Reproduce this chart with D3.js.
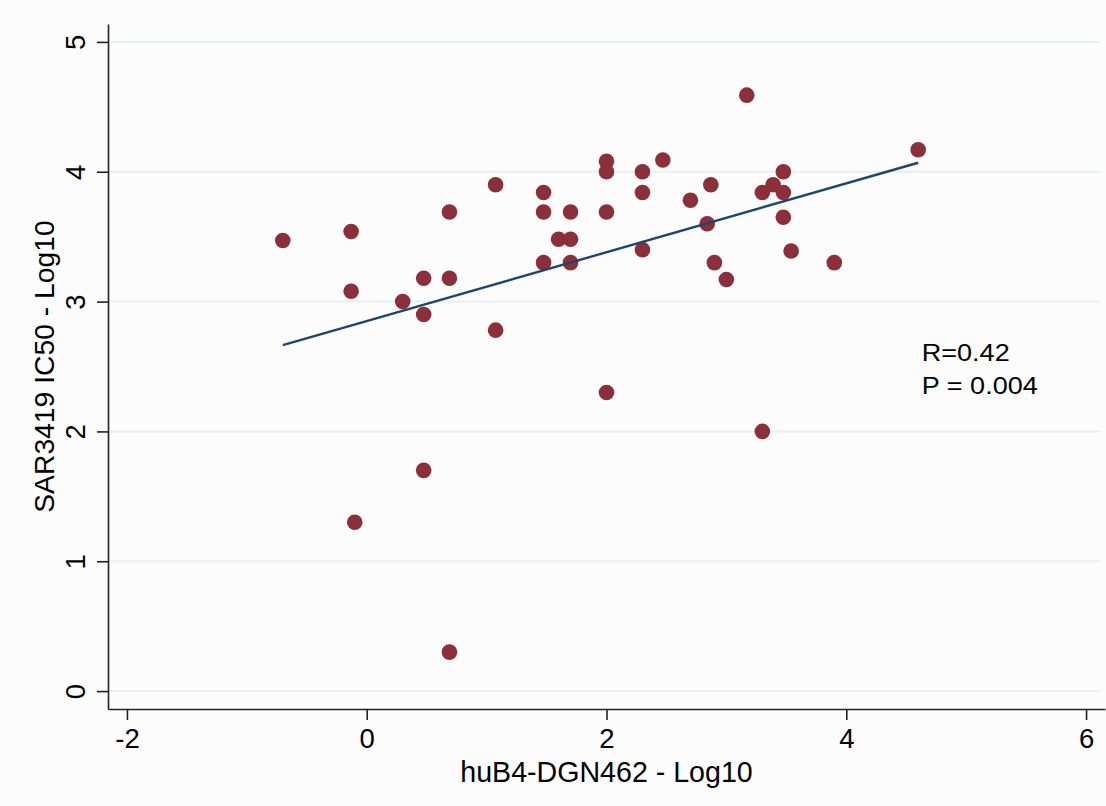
<!DOCTYPE html>
<html>
<head>
<meta charset="utf-8">
<script src="https://cdn.jsdelivr.net/npm/d3@7"></script>
<style>
  body { margin: 0; background: #fcfcfc; }
  svg { display: block; }
  text { font-family: "Liberation Sans", Arial, Helvetica, sans-serif; fill: #000; }
</style>
</head>
<body>
<div id="chart"></div>
<script>
// huB4-DGN462 (x) vs SAR3419 IC50 (y), both log10
const xValues = [-0.70, -0.13, -0.13, -0.10, 0.30, 0.475, 0.475, 0.475, 0.69, 0.69, 0.69,
  1.075, 1.075, 1.475, 1.475, 1.475, 1.60, 1.70, 1.70, 1.70,
  2.00, 2.00, 2.00, 2.00, 2.30, 2.30, 2.30, 2.47, 2.70, 2.84, 2.87, 2.90, 3.00,
  3.17, 3.30, 3.30, 3.39, 3.475, 3.475, 3.475, 3.54, 3.90, 4.60];
const yValues = [3.47, 3.54, 3.08, 1.30, 3.00, 3.18, 2.90, 1.70, 3.69, 3.18, 0.30,
  3.90, 2.78, 3.84, 3.69, 3.30, 3.48, 3.69, 3.48, 3.30,
  4.08, 4.00, 3.69, 2.30, 4.00, 3.84, 3.40, 4.09, 3.78, 3.60, 3.90, 3.30, 3.17,
  4.59, 3.84, 2.00, 3.90, 4.00, 3.84, 3.65, 3.39, 3.30, 4.17];
const xTicks = [-2, 0, 2, 4, 6];
const yTicks = [0, 1, 2, 3, 4, 5];
const statsLines = ["R=0.42", "P = 0.004"];
const statsAnchor = [4.63, 2.54];   // data position of first line

const W = 1106, H = 806;
const m = { left: 108, right: 1, top: 24, bottom: 97 };

const svg = d3.select("#chart").append("svg")
  .attr("width", W).attr("height", H);

svg.append("rect").attr("width", W).attr("height", H).attr("fill", "#fcfcfc");

const x = d3.scaleLinear().domain([-2.158, 6.158]).range([m.left, W - m.right]);
const y = d3.scaleLinear().domain([-0.138, 5.138]).range([H - m.bottom, m.top]);

// grid
svg.append("g").selectAll("line")
  .data(yTicks).enter().append("line")
    .attr("x1", m.left).attr("x2", W - 6)
    .attr("y1", d => y(d)).attr("y2", d => y(d))
    .attr("stroke", "#e8eff1").attr("stroke-width", 2);

// axes
const fmt = d => String(d);
const xAxis = svg.append("g")
  .attr("transform", `translate(0,${H - m.bottom})`)
  .call(d3.axisBottom(x).tickValues(xTicks).tickFormat(fmt).tickSize(11).tickSizeOuter(0));
const yAxis = svg.append("g")
  .attr("transform", `translate(${m.left},0)`)
  .call(d3.axisLeft(y).tickValues(yTicks).tickFormat(fmt).tickSize(11).tickSizeOuter(0));

[xAxis, yAxis].forEach(a => {
  a.attr("font-size", null).attr("font-family", null);
  a.select(".domain").attr("stroke", "#222").attr("stroke-width", 1.6);
  a.selectAll(".tick line").attr("stroke", "#222").attr("stroke-width", 1.6);
  a.selectAll(".tick text").style("font-size", "27.5px").attr("fill", "#000");
});
xAxis.selectAll(".tick text").attr("y", 39).attr("dy", null);
yAxis.selectAll(".tick text")
  .attr("x", null).attr("dy", null).attr("y", null)
  .attr("text-anchor", "middle")
  .attr("transform", "translate(-23,0) rotate(-90)");

// axis titles
svg.append("text")
  .attr("x", (m.left + W - m.right) / 2).attr("y", 782)
  .attr("text-anchor", "middle").style("font-size", "28.6px")
  .text("huB4-DGN462 - Log10");
svg.append("text")
  .attr("transform", `translate(54,${(m.top + H - m.bottom) / 2}) rotate(-90)`)
  .attr("text-anchor", "middle").style("font-size", "28.3px")
  .text("SAR3419 IC50 - Log10");

// linear fit from the data
const n = xValues.length;
const mx = d3.mean(xValues), my = d3.mean(yValues);
let sxy = 0, sxx = 0;
for (let i = 0; i < n; i++) {
  sxy += (xValues[i] - mx) * (yValues[i] - my);
  sxx += (xValues[i] - mx) ** 2;
}
const slope = sxy / sxx, intercept = my - slope * mx;
const [xmin, xmax] = d3.extent(xValues);

// points
svg.append("g").selectAll("circle")
  .data(xValues.map((v, i) => [v, yValues[i]])).enter().append("circle")
    .attr("cx", d => x(d[0])).attr("cy", d => y(d[1]))
    .attr("r", 7.8).attr("fill", "#8c2f39");

svg.append("path")
  .datum([xmin, xmax])
  .attr("d", d3.line().x(d => x(d)).y(d => y(intercept + slope * d)))
  .attr("stroke", "#1a476f").attr("stroke-width", 2.4).attr("fill", "none");

// stats
svg.append("g").selectAll("text")
  .data(statsLines).enter().append("text")
    .attr("transform", (d, i) => `translate(${x(statsAnchor[0])},${y(statsAnchor[1]) + i * 33}) scale(1.15,1)`)
    .style("font-size", "23.5px")
    .text(d => d);
</script>
</body>
</html>
